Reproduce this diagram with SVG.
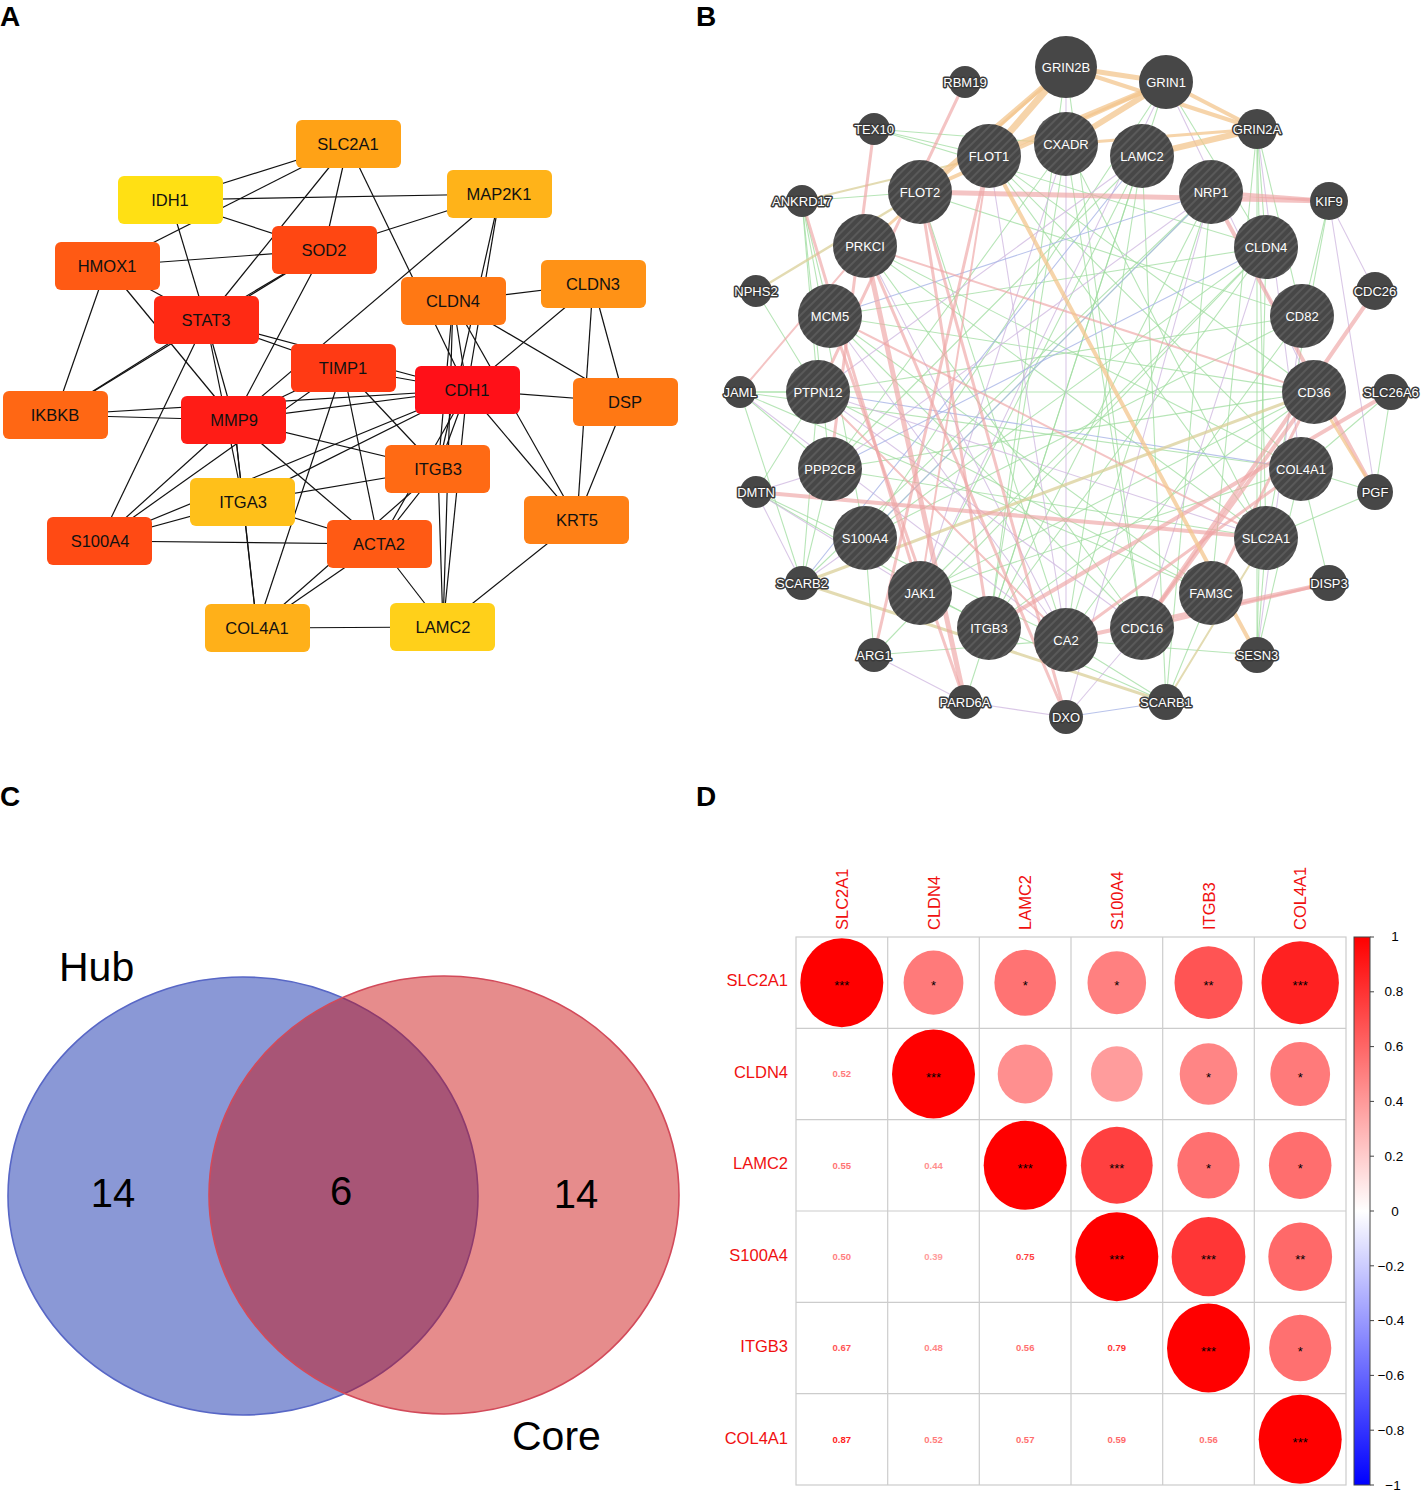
<svg xmlns="http://www.w3.org/2000/svg" width="1424" height="1493" viewBox="0 0 1424 1493">
<style>
text{font-family:"Liberation Sans",Arial,sans-serif}
.pl{font-size:28px;font-weight:bold;fill:#000}
.ae line{stroke:#111;stroke-width:1.2}
.an text{font-size:16.5px;text-anchor:middle;fill:#111}
.be line{fill:none;stroke-linecap:round}
.o{stroke:#f3c58e;stroke-opacity:.75}
.y{stroke:#d9cf98;stroke-opacity:.75}
.p{stroke:#eea4a4;stroke-opacity:.65}
.g{stroke:#9fdc9f;stroke-width:1.1;stroke-opacity:.75}
.v{stroke:#cdb5df;stroke-width:1.1;stroke-opacity:.75}
.b{stroke:#a8b4e6;stroke-width:1.1;stroke-opacity:.8}
.bn text{font-size:13px;text-anchor:middle;fill:#fff}
.bs text{font-size:13px;text-anchor:middle;fill:#fff;stroke:#3a3a3a;stroke-width:3;paint-order:stroke;stroke-linejoin:round}
.venn text{fill:#000}
.rl{font-size:16.5px;fill:#f01010;text-anchor:end}
.cl{font-size:16.5px;fill:#f01010}
.st{font-size:13px;text-anchor:middle;fill:#000}
.vl{font-size:9.5px;font-weight:bold;text-anchor:middle}
.cb{font-size:13.5px;text-anchor:middle;fill:#000}
</style>
<defs>
<pattern id="hatch" patternUnits="userSpaceOnUse" width="6" height="6" patternTransform="rotate(45)">
<rect width="6" height="6" fill="#474747"/>
<line x1="3" y1="0" x2="3" y2="6" stroke="#5e5e5e" stroke-width="1.6"/>
</pattern>
<linearGradient id="cbar" x1="0" y1="0" x2="0" y2="1">
<stop offset="0" stop-color="#ff0000"/>
<stop offset="0.5" stop-color="#ffffff"/>
<stop offset="1" stop-color="#0000ff"/>
</linearGradient>
</defs>
<rect width="1424" height="1493" fill="#fff"/>

<text class="pl" x="0" y="26">A</text>
<text class="pl" x="696" y="26">B</text>
<text class="pl" x="0" y="806">C</text>
<text class="pl" x="696" y="806">D</text>

<!-- Panel A connectors -->
<g id="a-edges" class="ae">
<line x1="170" y1="200" x2="348" y2="144"/>
<line x1="107" y1="266" x2="348" y2="144"/>
<line x1="170" y1="200" x2="500" y2="194"/>
<line x1="170" y1="200" x2="324" y2="250"/>
<line x1="170" y1="200" x2="206" y2="320"/>
<line x1="107" y1="266" x2="324" y2="250"/>
<line x1="107" y1="266" x2="55" y2="415"/>
<line x1="107" y1="266" x2="234" y2="420"/>
<line x1="107" y1="266" x2="206" y2="320"/>
<line x1="348" y1="144" x2="206" y2="320"/>
<line x1="348" y1="144" x2="324" y2="250"/>
<line x1="348" y1="144" x2="467" y2="390"/>
<line x1="500" y1="194" x2="324" y2="250"/>
<line x1="500" y1="194" x2="234" y2="420"/>
<line x1="500" y1="194" x2="467" y2="390"/>
<line x1="500" y1="194" x2="438" y2="469"/>
<line x1="453" y1="301" x2="593" y2="284"/>
<line x1="453" y1="301" x2="467" y2="390"/>
<line x1="453" y1="301" x2="625" y2="402"/>
<line x1="453" y1="301" x2="577" y2="520"/>
<line x1="453" y1="301" x2="438" y2="469"/>
<line x1="453" y1="301" x2="443" y2="627"/>
<line x1="593" y1="284" x2="467" y2="390"/>
<line x1="593" y1="284" x2="625" y2="402"/>
<line x1="593" y1="284" x2="577" y2="520"/>
<line x1="467" y1="390" x2="625" y2="402"/>
<line x1="467" y1="390" x2="577" y2="520"/>
<line x1="467" y1="390" x2="438" y2="469"/>
<line x1="467" y1="390" x2="443" y2="627"/>
<line x1="467" y1="390" x2="379" y2="544"/>
<line x1="625" y1="402" x2="577" y2="520"/>
<line x1="438" y1="469" x2="443" y2="627"/>
<line x1="577" y1="520" x2="443" y2="627"/>
<line x1="379" y1="544" x2="443" y2="627"/>
<line x1="257" y1="628" x2="443" y2="627"/>
<line x1="379" y1="544" x2="438" y2="469"/>
<line x1="100" y1="541" x2="379" y2="544"/>
<line x1="243" y1="502" x2="379" y2="544"/>
<line x1="243" y1="502" x2="438" y2="469"/>
<line x1="257" y1="628" x2="379" y2="544"/>
<line x1="257" y1="628" x2="243" y2="502"/>
<line x1="257" y1="628" x2="343" y2="368"/>
<line x1="257" y1="628" x2="438" y2="469"/>
<line x1="257" y1="628" x2="234" y2="420"/>
<line x1="100" y1="541" x2="243" y2="502"/>
<line x1="100" y1="541" x2="234" y2="420"/>
<line x1="100" y1="541" x2="343" y2="368"/>
<line x1="100" y1="541" x2="206" y2="320"/>
<line x1="100" y1="541" x2="467" y2="390"/>
<line x1="55" y1="415" x2="234" y2="420"/>
<line x1="55" y1="415" x2="467" y2="390"/>
<line x1="55" y1="415" x2="206" y2="320"/>
<line x1="55" y1="415" x2="324" y2="250"/>
<line x1="206" y1="320" x2="324" y2="250"/>
<line x1="206" y1="320" x2="343" y2="368"/>
<line x1="206" y1="320" x2="234" y2="420"/>
<line x1="206" y1="320" x2="243" y2="502"/>
<line x1="206" y1="320" x2="467" y2="390"/>
<line x1="324" y1="250" x2="234" y2="420"/>
<line x1="343" y1="368" x2="467" y2="390"/>
<line x1="343" y1="368" x2="438" y2="469"/>
<line x1="343" y1="368" x2="379" y2="544"/>
<line x1="343" y1="368" x2="234" y2="420"/>
<line x1="234" y1="420" x2="467" y2="390"/>
<line x1="234" y1="420" x2="438" y2="469"/>
<line x1="234" y1="420" x2="379" y2="544"/>
<line x1="234" y1="420" x2="243" y2="502"/>
<line x1="243" y1="502" x2="467" y2="390"/>
</g>

<!-- Panel A nodes -->
<g class="an">
<g id="a-SLC2A1"><rect x="296" y="120" width="105" height="48" rx="6" fill="#ffa216"/><text x="348" y="150">SLC2A1</text></g>
<g id="a-IDH1"><rect x="118" y="176" width="105" height="48" rx="6" fill="#ffe014"/><text x="170" y="206">IDH1</text></g>
<g id="a-MAP2K1"><rect x="447" y="170" width="105" height="48" rx="6" fill="#ffb319"/><text x="499" y="200">MAP2K1</text></g>
<g id="a-HMOX1"><rect x="55" y="242" width="105" height="48" rx="6" fill="#ff5a14"/><text x="107" y="272">HMOX1</text></g>
<g id="a-SOD2"><rect x="272" y="226" width="105" height="48" rx="6" fill="#ff4712"/><text x="324" y="256">SOD2</text></g>
<g id="a-STAT3"><rect x="154" y="296" width="105" height="48" rx="6" fill="#ff2a14"/><text x="206" y="326">STAT3</text></g>
<g id="a-CLDN4"><rect x="401" y="277" width="105" height="48" rx="6" fill="#ff7814"/><text x="453" y="307">CLDN4</text></g>
<g id="a-CLDN3"><rect x="541" y="260" width="105" height="48" rx="6" fill="#ff9216"/><text x="593" y="290">CLDN3</text></g>
<g id="a-TIMP1"><rect x="291" y="344" width="105" height="48" rx="6" fill="#ff3a14"/><text x="343" y="374">TIMP1</text></g>
<g id="a-CDH1"><rect x="415" y="366" width="105" height="48" rx="6" fill="#ff1018"/><text x="467" y="396">CDH1</text></g>
<g id="a-DSP"><rect x="573" y="378" width="105" height="48" rx="6" fill="#ff7814"/><text x="625" y="408">DSP</text></g>
<g id="a-IKBKB"><rect x="3" y="391" width="105" height="48" rx="6" fill="#ff6714"/><text x="55" y="421">IKBKB</text></g>
<g id="a-MMP9"><rect x="181" y="396" width="105" height="48" rx="6" fill="#ff1c16"/><text x="234" y="426">MMP9</text></g>
<g id="a-ITGB3"><rect x="385" y="445" width="105" height="48" rx="6" fill="#ff6a14"/><text x="438" y="475">ITGB3</text></g>
<g id="a-ITGA3"><rect x="190" y="478" width="105" height="48" rx="6" fill="#ffc01a"/><text x="243" y="508">ITGA3</text></g>
<g id="a-KRT5"><rect x="524" y="496" width="105" height="48" rx="6" fill="#ff8016"/><text x="577" y="526">KRT5</text></g>
<g id="a-S100A4"><rect x="47" y="517" width="105" height="48" rx="6" fill="#ff4a14"/><text x="100" y="547">S100A4</text></g>
<g id="a-ACTA2"><rect x="327" y="520" width="105" height="48" rx="6" fill="#ff5a14"/><text x="379" y="550">ACTA2</text></g>
<g id="a-COL4A1"><rect x="205" y="604" width="105" height="48" rx="6" fill="#ffb019"/><text x="257" y="634">COL4A1</text></g>
<g id="a-LAMC2"><rect x="390" y="603" width="105" height="48" rx="6" fill="#ffd01a"/><text x="443" y="633">LAMC2</text></g>
</g>

<!-- Panel B connectors -->
<g id="b-edges" class="be">
<line class="g" x1="874" y1="129" x2="989" y2="156"/>
<line class="g" x1="874" y1="129" x2="1066" y2="144"/>
<line class="g" x1="874" y1="129" x2="1266" y2="247"/>
<line class="g" x1="802" y1="201" x2="920" y2="192"/>
<line class="g" x1="802" y1="201" x2="830" y2="316"/>
<line class="g" x1="802" y1="201" x2="818" y2="392"/>
<line class="g" x1="802" y1="201" x2="830" y2="469"/>
<line class="g" x1="802" y1="201" x2="865" y2="538"/>
<line class="g" x1="756" y1="291" x2="818" y2="392"/>
<line class="g" x1="740" y1="392" x2="818" y2="392"/>
<line class="g" x1="740" y1="392" x2="1314" y2="392"/>
<line class="g" x1="740" y1="392" x2="1301" y2="469"/>
<line class="g" x1="740" y1="392" x2="802" y2="583"/>
<line class="g" x1="740" y1="392" x2="830" y2="469"/>
<line class="g" x1="740" y1="392" x2="1211" y2="593"/>
<line class="g" x1="756" y1="492" x2="818" y2="392"/>
<line class="g" x1="756" y1="492" x2="1066" y2="640"/>
<line class="g" x1="756" y1="492" x2="989" y2="628"/>
<line class="g" x1="802" y1="583" x2="818" y2="392"/>
<line class="g" x1="802" y1="583" x2="830" y2="469"/>
<line class="g" x1="802" y1="583" x2="1211" y2="192"/>
<line class="g" x1="874" y1="655" x2="865" y2="538"/>
<line class="g" x1="874" y1="655" x2="1066" y2="640"/>
<line class="g" x1="874" y1="655" x2="1266" y2="247"/>
<line class="g" x1="965" y1="702" x2="989" y2="628"/>
<line class="g" x1="1257" y1="129" x2="1266" y2="247"/>
<line class="g" x1="1257" y1="129" x2="1302" y2="316"/>
<line class="g" x1="1257" y1="129" x2="1266" y2="538"/>
<line class="g" x1="1257" y1="129" x2="1257" y2="655"/>
<line class="g" x1="1257" y1="129" x2="1211" y2="593"/>
<line class="g" x1="1329" y1="201" x2="1302" y2="316"/>
<line class="g" x1="1329" y1="201" x2="1266" y2="538"/>
<line class="g" x1="1391" y1="392" x2="1375" y2="492"/>
<line class="g" x1="1391" y1="392" x2="1301" y2="469"/>
<line class="g" x1="1375" y1="492" x2="1301" y2="469"/>
<line class="g" x1="1375" y1="492" x2="1266" y2="538"/>
<line class="g" x1="1257" y1="655" x2="1266" y2="538"/>
<line class="g" x1="1257" y1="655" x2="1266" y2="247"/>
<line class="g" x1="1257" y1="655" x2="1066" y2="640"/>
<line class="g" x1="1257" y1="655" x2="1301" y2="469"/>
<line class="g" x1="1166" y1="702" x2="1066" y2="640"/>
<line class="g" x1="1166" y1="702" x2="1211" y2="593"/>
<line class="g" x1="1166" y1="702" x2="920" y2="593"/>
<line class="g" x1="1166" y1="702" x2="1211" y2="192"/>
<line class="g" x1="1166" y1="702" x2="1142" y2="156"/>
<line class="g" x1="1066" y1="144" x2="989" y2="628"/>
<line class="g" x1="1066" y1="144" x2="1142" y2="628"/>
<line class="g" x1="1066" y1="144" x2="830" y2="469"/>
<line class="g" x1="1066" y1="144" x2="1266" y2="538"/>
<line class="g" x1="1142" y1="156" x2="989" y2="628"/>
<line class="g" x1="1142" y1="156" x2="1066" y2="640"/>
<line class="g" x1="1142" y1="156" x2="920" y2="593"/>
<line class="g" x1="1142" y1="156" x2="830" y2="469"/>
<line class="g" x1="1211" y1="192" x2="989" y2="628"/>
<line class="g" x1="1211" y1="192" x2="865" y2="538"/>
<line class="g" x1="1211" y1="192" x2="1066" y2="640"/>
<line class="g" x1="989" y1="156" x2="1314" y2="392"/>
<line class="g" x1="989" y1="156" x2="1266" y2="538"/>
<line class="g" x1="989" y1="156" x2="1301" y2="469"/>
<line class="g" x1="920" y1="192" x2="1302" y2="316"/>
<line class="g" x1="920" y1="192" x2="1066" y2="640"/>
<line class="g" x1="865" y1="246" x2="1301" y2="469"/>
<line class="g" x1="865" y1="246" x2="1266" y2="538"/>
<line class="g" x1="865" y1="246" x2="1142" y2="628"/>
<line class="g" x1="830" y1="316" x2="1266" y2="247"/>
<line class="g" x1="830" y1="316" x2="1211" y2="593"/>
<line class="g" x1="830" y1="316" x2="1314" y2="392"/>
<line class="g" x1="818" y1="392" x2="1302" y2="316"/>
<line class="g" x1="818" y1="392" x2="1211" y2="593"/>
<line class="g" x1="830" y1="469" x2="1266" y2="538"/>
<line class="g" x1="830" y1="469" x2="1314" y2="392"/>
<line class="g" x1="865" y1="538" x2="1302" y2="316"/>
<line class="g" x1="865" y1="538" x2="1266" y2="247"/>
<line class="g" x1="920" y1="593" x2="1266" y2="247"/>
<line class="g" x1="920" y1="593" x2="1314" y2="392"/>
<line class="g" x1="920" y1="593" x2="1301" y2="469"/>
<line class="g" x1="989" y1="628" x2="1314" y2="392"/>
<line class="g" x1="989" y1="628" x2="1266" y2="247"/>
<line class="g" x1="1066" y1="640" x2="1302" y2="316"/>
<line class="g" x1="1142" y1="628" x2="830" y2="316"/>
<line class="g" x1="1166" y1="82" x2="1266" y2="247"/>
<line class="g" x1="1166" y1="82" x2="989" y2="628"/>
<line class="g" x1="1166" y1="82" x2="865" y2="538"/>
<line class="g" x1="1066" y1="67" x2="989" y2="628"/>
<line class="g" x1="1066" y1="67" x2="1142" y2="628"/>
<line class="g" x1="1329" y1="583" x2="1301" y2="469"/>
<line class="v" x1="740" y1="392" x2="1066" y2="640"/>
<line class="v" x1="756" y1="492" x2="802" y2="583"/>
<line class="v" x1="756" y1="492" x2="920" y2="593"/>
<line class="v" x1="818" y1="392" x2="1266" y2="538"/>
<line class="v" x1="818" y1="392" x2="1142" y2="628"/>
<line class="v" x1="830" y1="316" x2="1066" y2="640"/>
<line class="v" x1="830" y1="469" x2="756" y2="492"/>
<line class="v" x1="865" y1="538" x2="802" y2="583"/>
<line class="v" x1="1329" y1="201" x2="1375" y2="291"/>
<line class="v" x1="1329" y1="201" x2="1375" y2="492"/>
<line class="v" x1="1257" y1="129" x2="1301" y2="469"/>
<line class="v" x1="1066" y1="144" x2="920" y2="593"/>
<line class="v" x1="989" y1="156" x2="1066" y2="640"/>
<line class="v" x1="1142" y1="156" x2="818" y2="392"/>
<line class="v" x1="1166" y1="82" x2="920" y2="593"/>
<line class="v" x1="1142" y1="628" x2="1066" y2="717"/>
<line class="v" x1="965" y1="702" x2="1066" y2="717"/>
<line class="v" x1="874" y1="655" x2="965" y2="702"/>
<line class="v" x1="865" y1="246" x2="1066" y2="640"/>
<line class="v" x1="1211" y1="192" x2="830" y2="469"/>
<line class="v" x1="1166" y1="82" x2="1314" y2="392"/>
<line class="v" x1="1066" y1="67" x2="1066" y2="640"/>
<line class="v" x1="1266" y1="247" x2="1142" y2="628"/>
<line class="v" x1="1302" y1="316" x2="1257" y2="655"/>
<line class="v" x1="1211" y1="192" x2="1066" y2="717"/>
<line class="b" x1="830" y1="316" x2="1211" y2="192"/>
<line class="b" x1="830" y1="469" x2="1266" y2="247"/>
<line class="b" x1="1066" y1="717" x2="1166" y2="702"/>
<line class="b" x1="802" y1="583" x2="1142" y2="156"/>
<line class="b" x1="818" y1="392" x2="1301" y2="469"/>
<line class="b" x1="865" y1="538" x2="1211" y2="192"/>
<line class="y" stroke-width="2.5" x1="756" y1="291" x2="920" y2="192"/>
<line class="y" stroke-width="3" x1="802" y1="583" x2="1314" y2="392"/>
<line class="y" stroke-width="3" x1="802" y1="583" x2="1166" y2="702"/>
<line class="y" stroke-width="2" x1="1166" y1="702" x2="1266" y2="538"/>
<line class="y" stroke-width="2" x1="802" y1="201" x2="989" y2="156"/>
<line class="p" stroke-width="5" x1="920" y1="192" x2="1329" y2="201"/>
<line class="p" stroke-width="4" x1="1211" y1="192" x2="1329" y2="201"/>
<line class="p" stroke-width="4" x1="1211" y1="192" x2="1375" y2="492"/>
<line class="p" stroke-width="4" x1="1375" y1="291" x2="1142" y2="628"/>
<line class="p" stroke-width="4" x1="1391" y1="392" x2="989" y2="628"/>
<line class="p" stroke-width="4" x1="1329" y1="583" x2="1066" y2="640"/>
<line class="p" stroke-width="3" x1="1329" y1="583" x2="1142" y2="628"/>
<line class="p" stroke-width="4" x1="756" y1="492" x2="1266" y2="538"/>
<line class="p" stroke-width="3" x1="874" y1="129" x2="830" y2="469"/>
<line class="p" stroke-width="3" x1="965" y1="82" x2="818" y2="392"/>
<line class="p" stroke-width="3" x1="802" y1="201" x2="920" y2="593"/>
<line class="p" stroke-width="5" x1="965" y1="702" x2="865" y2="246"/>
<line class="p" stroke-width="3" x1="965" y1="702" x2="830" y2="316"/>
<line class="p" stroke-width="3" x1="874" y1="655" x2="989" y2="156"/>
<line class="p" stroke-width="3" x1="1066" y1="717" x2="920" y2="192"/>
<line class="p" stroke-width="3" x1="1066" y1="717" x2="865" y2="246"/>
<line class="p" stroke-width="4" x1="1314" y1="392" x2="1142" y2="628"/>
<line class="p" stroke-width="3" x1="1314" y1="392" x2="1211" y2="593"/>
<line class="p" stroke-width="3" x1="1301" y1="469" x2="1066" y2="640"/>
<line class="p" stroke-width="2" x1="865" y1="246" x2="1314" y2="392"/>
<line class="p" stroke-width="3" x1="920" y1="192" x2="989" y2="628"/>
<line class="p" stroke-width="2" x1="989" y1="156" x2="920" y2="593"/>
<line class="p" stroke-width="2" x1="818" y1="392" x2="1066" y2="640"/>
<line class="p" stroke-width="2" x1="830" y1="316" x2="1266" y2="538"/>
<line class="p" stroke-width="2" x1="740" y1="392" x2="865" y2="246"/>
<line class="o" stroke-width="5" x1="1066" y1="67" x2="1166" y2="82"/>
<line class="o" stroke-width="4" x1="1066" y1="67" x2="1257" y2="129"/>
<line class="o" stroke-width="4" x1="1166" y1="82" x2="1257" y2="129"/>
<line class="o" stroke-width="7" x1="1066" y1="67" x2="989" y2="156"/>
<line class="o" stroke-width="5" x1="1066" y1="67" x2="920" y2="192"/>
<line class="o" stroke-width="5" x1="1166" y1="82" x2="989" y2="156"/>
<line class="o" stroke-width="6" x1="1166" y1="82" x2="1066" y2="144"/>
<line class="o" stroke-width="6" x1="1257" y1="129" x2="1142" y2="156"/>
<line class="o" stroke-width="3" x1="1257" y1="129" x2="1066" y2="144"/>
<line class="o" stroke-width="4" x1="1166" y1="82" x2="920" y2="192"/>
<line class="o" stroke-width="4" x1="989" y1="156" x2="1257" y2="655"/>
<line class="o" stroke-width="3" x1="1314" y1="392" x2="1375" y2="492"/>
<line class="o" stroke-width="3" x1="1066" y1="67" x2="865" y2="246"/>
</g>

<!-- Panel B nodes: small -->
<g class="bs">
<g id="b-RBM19"><circle cx="965" cy="82" r="16" fill="#474747"/><text x="965" y="87">RBM19</text></g>
<g id="b-TEX10"><circle cx="874" cy="129" r="16" fill="#474747"/><text x="874" y="134">TEX10</text></g>
<g id="b-ANKRD17"><circle cx="802" cy="201" r="16" fill="#474747"/><text x="802" y="206">ANKRD17</text></g>
<g id="b-NPHS2"><circle cx="756" cy="291" r="16" fill="#474747"/><text x="756" y="296">NPHS2</text></g>
<g id="b-JAML"><circle cx="740" cy="392" r="16" fill="#474747"/><text x="740" y="397">JAML</text></g>
<g id="b-DMTN"><circle cx="756" cy="492" r="16" fill="#474747"/><text x="756" y="497">DMTN</text></g>
<g id="b-SCARB2"><circle cx="802" cy="583" r="17" fill="#474747"/><text x="802" y="588">SCARB2</text></g>
<g id="b-ARG1"><circle cx="874" cy="655" r="17" fill="#474747"/><text x="874" y="660">ARG1</text></g>
<g id="b-PARD6A"><circle cx="965" cy="702" r="17" fill="#474747"/><text x="965" y="707">PARD6A</text></g>
<g id="b-DXO"><circle cx="1066" cy="717" r="17" fill="#474747"/><text x="1066" y="722">DXO</text></g>
<g id="b-SCARB1"><circle cx="1166" cy="702" r="18" fill="#474747"/><text x="1166" y="707">SCARB1</text></g>
<g id="b-SESN3"><circle cx="1257" cy="655" r="18" fill="#474747"/><text x="1257" y="660">SESN3</text></g>
<g id="b-DISP3"><circle cx="1329" cy="583" r="18" fill="#474747"/><text x="1329" y="588">DISP3</text></g>
<g id="b-PGF"><circle cx="1375" cy="492" r="18" fill="#474747"/><text x="1375" y="497">PGF</text></g>
<g id="b-SLC26A6"><circle cx="1391" cy="392" r="18" fill="#474747"/><text x="1391" y="397">SLC26A6</text></g>
<g id="b-CDC26"><circle cx="1375" cy="291" r="19" fill="#474747"/><text x="1375" y="296">CDC26</text></g>
<g id="b-KIF9"><circle cx="1329" cy="201" r="19" fill="#474747"/><text x="1329" y="206">KIF9</text></g>
<g id="b-GRIN2A"><circle cx="1257" cy="129" r="20" fill="#474747"/><text x="1257" y="134">GRIN2A</text></g>
</g>
<!-- Panel B nodes: large -->
<g class="bn">
<g id="b-GRIN2B"><circle cx="1066" cy="67" r="31" fill="#474747"/><text x="1066" y="72">GRIN2B</text></g>
<g id="b-GRIN1"><circle cx="1166" cy="82" r="27" fill="#474747"/><text x="1166" y="87">GRIN1</text></g>
<g id="b-FLOT1"><circle cx="989" cy="156" r="32" fill="url(#hatch)"/><text x="989" y="161">FLOT1</text></g>
<g id="b-CXADR"><circle cx="1066" cy="144" r="32" fill="url(#hatch)"/><text x="1066" y="149">CXADR</text></g>
<g id="b-LAMC2"><circle cx="1142" cy="156" r="32" fill="url(#hatch)"/><text x="1142" y="161">LAMC2</text></g>
<g id="b-NRP1"><circle cx="1211" cy="192" r="32" fill="url(#hatch)"/><text x="1211" y="197">NRP1</text></g>
<g id="b-FLOT2"><circle cx="920" cy="192" r="32" fill="url(#hatch)"/><text x="920" y="197">FLOT2</text></g>
<g id="b-PRKCI"><circle cx="865" cy="246" r="32" fill="url(#hatch)"/><text x="865" y="251">PRKCI</text></g>
<g id="b-CLDN4"><circle cx="1266" cy="247" r="32" fill="url(#hatch)"/><text x="1266" y="252">CLDN4</text></g>
<g id="b-MCM5"><circle cx="830" cy="316" r="32" fill="url(#hatch)"/><text x="830" y="321">MCM5</text></g>
<g id="b-CD82"><circle cx="1302" cy="316" r="32" fill="url(#hatch)"/><text x="1302" y="321">CD82</text></g>
<g id="b-PTPN12"><circle cx="818" cy="392" r="32" fill="url(#hatch)"/><text x="818" y="397">PTPN12</text></g>
<g id="b-CD36"><circle cx="1314" cy="392" r="32" fill="url(#hatch)"/><text x="1314" y="397">CD36</text></g>
<g id="b-PPP2CB"><circle cx="830" cy="469" r="32" fill="url(#hatch)"/><text x="830" y="474">PPP2CB</text></g>
<g id="b-COL4A1"><circle cx="1301" cy="469" r="32" fill="url(#hatch)"/><text x="1301" y="474">COL4A1</text></g>
<g id="b-S100A4"><circle cx="865" cy="538" r="32" fill="url(#hatch)"/><text x="865" y="543">S100A4</text></g>
<g id="b-SLC2A1"><circle cx="1266" cy="538" r="32" fill="url(#hatch)"/><text x="1266" y="543">SLC2A1</text></g>
<g id="b-JAK1"><circle cx="920" cy="593" r="32" fill="url(#hatch)"/><text x="920" y="598">JAK1</text></g>
<g id="b-FAM3C"><circle cx="1211" cy="593" r="32" fill="url(#hatch)"/><text x="1211" y="598">FAM3C</text></g>
<g id="b-ITGB3"><circle cx="989" cy="628" r="32" fill="url(#hatch)"/><text x="989" y="633">ITGB3</text></g>
<g id="b-CDC16"><circle cx="1142" cy="628" r="32" fill="url(#hatch)"/><text x="1142" y="633">CDC16</text></g>
<g id="b-CA2"><circle cx="1066" cy="640" r="32" fill="url(#hatch)"/><text x="1066" y="645">CA2</text></g>
</g>

<!-- Panel C Venn -->
<g id="venn" class="venn">
<ellipse id="hub" cx="243" cy="1196" rx="235" ry="219" fill="#8a98d6" stroke="#5867c6" stroke-width="1.6"/>
<ellipse id="core" cx="444" cy="1195" rx="235" ry="219" fill="#ca0b0b" fill-opacity="0.47" stroke="#d24a5a" stroke-width="1.6"/>
<text x="59" y="981" font-size="41">Hub</text>
<text x="113" y="1207" font-size="40" text-anchor="middle">14</text>
<text x="341" y="1205" font-size="40" text-anchor="middle">6</text>
<text x="576" y="1208" font-size="40" text-anchor="middle">14</text>
<text x="512" y="1450" font-size="41">Core</text>
</g>

<!-- Panel D correlation -->
<g id="corr">
<rect x="796" y="937" width="550" height="548" fill="#fff" stroke="#cccccc" stroke-width="1.2"/>
<g stroke="#cccccc" stroke-width="1.2">
<line x1="887.7" y1="937" x2="887.7" y2="1485"/>
<line x1="979.3" y1="937" x2="979.3" y2="1485"/>
<line x1="1071" y1="937" x2="1071" y2="1485"/>
<line x1="1162.7" y1="937" x2="1162.7" y2="1485"/>
<line x1="1254.3" y1="937" x2="1254.3" y2="1485"/>
<line x1="796" y1="1028.3" x2="1346" y2="1028.3"/>
<line x1="796" y1="1119.7" x2="1346" y2="1119.7"/>
<line x1="796" y1="1211" x2="1346" y2="1211"/>
<line x1="796" y1="1302.3" x2="1346" y2="1302.3"/>
<line x1="796" y1="1393.7" x2="1346" y2="1393.7"/>
</g>
<text class="rl" x="788" y="986">SLC2A1</text>
<text class="rl" x="788" y="1077.5">CLDN4</text>
<text class="rl" x="788" y="1169">LAMC2</text>
<text class="rl" x="788" y="1260.5">S100A4</text>
<text class="rl" x="788" y="1352">ITGB3</text>
<text class="rl" x="788" y="1443.5">COL4A1</text>
<text class="cl" transform="translate(848,930) rotate(-90)">SLC2A1</text>
<text class="cl" transform="translate(939.5,930) rotate(-90)">CLDN4</text>
<text class="cl" transform="translate(1031,930) rotate(-90)">LAMC2</text>
<text class="cl" transform="translate(1123,930) rotate(-90)">S100A4</text>
<text class="cl" transform="translate(1214.5,930) rotate(-90)">ITGB3</text>
<text class="cl" transform="translate(1306,930) rotate(-90)">COL4A1</text>
<!-- row 1 -->
<ellipse cx="841.8" cy="982.7" rx="41.5" ry="44.5" fill="#ff0000"/>
<ellipse cx="933.5" cy="982.7" rx="29.9" ry="32.1" fill="#ff7a7a"/>
<ellipse cx="1025.2" cy="982.7" rx="30.8" ry="33" fill="#ff7373"/>
<ellipse cx="1116.8" cy="982.7" rx="29.3" ry="31.5" fill="#ff8080"/>
<ellipse cx="1208.5" cy="982.7" rx="34" ry="36.4" fill="#ff5454"/>
<ellipse cx="1300.2" cy="982.7" rx="38.7" ry="41.5" fill="#ff2121"/>
<!-- row 2 -->
<ellipse cx="933.5" cy="1074" rx="41.5" ry="44.5" fill="#ff0000"/>
<ellipse cx="1025.2" cy="1074" rx="27.5" ry="29.5" fill="#ff8f8f"/>
<ellipse cx="1116.8" cy="1074" rx="25.9" ry="27.8" fill="#ff9c9c"/>
<ellipse cx="1208.5" cy="1074" rx="28.8" ry="30.8" fill="#ff8585"/>
<ellipse cx="1300.2" cy="1074" rx="29.9" ry="32.1" fill="#ff7a7a"/>
<!-- row 3 -->
<ellipse cx="1025.2" cy="1165.3" rx="41.5" ry="44.5" fill="#ff0000"/>
<ellipse cx="1116.8" cy="1165.3" rx="35.9" ry="38.5" fill="#ff4040"/>
<ellipse cx="1208.5" cy="1165.3" rx="31.1" ry="33.3" fill="#ff7070"/>
<ellipse cx="1300.2" cy="1165.3" rx="31.3" ry="33.6" fill="#ff6e6e"/>
<!-- row 4 -->
<ellipse cx="1116.8" cy="1256.7" rx="41.5" ry="44.5" fill="#ff0000"/>
<ellipse cx="1208.5" cy="1256.7" rx="36.9" ry="39.6" fill="#ff3636"/>
<ellipse cx="1300.2" cy="1256.7" rx="31.9" ry="34.2" fill="#ff6969"/>
<!-- row 5 -->
<ellipse cx="1208.5" cy="1348" rx="41.5" ry="44.5" fill="#ff0000"/>
<ellipse cx="1300.2" cy="1348" rx="31.1" ry="33.3" fill="#ff7070"/>
<!-- row 6 -->
<ellipse cx="1300.2" cy="1439.3" rx="41.5" ry="44.5" fill="#ff0000"/>
<!-- stars -->
<text class="st" x="841.8" y="990">***</text>
<text class="st" x="933.5" y="990">*</text>
<text class="st" x="1025.2" y="990">*</text>
<text class="st" x="1116.8" y="990">*</text>
<text class="st" x="1208.5" y="990">**</text>
<text class="st" x="1300.2" y="990">***</text>
<text class="st" x="933.5" y="1081.5">***</text>
<text class="st" x="1208.5" y="1081.5">*</text>
<text class="st" x="1300.2" y="1081.5">*</text>
<text class="st" x="1025.2" y="1172.8">***</text>
<text class="st" x="1116.8" y="1172.8">***</text>
<text class="st" x="1208.5" y="1172.8">*</text>
<text class="st" x="1300.2" y="1172.8">*</text>
<text class="st" x="1116.8" y="1264.2">***</text>
<text class="st" x="1208.5" y="1264.2">***</text>
<text class="st" x="1300.2" y="1264.2">**</text>
<text class="st" x="1208.5" y="1355.5">***</text>
<text class="st" x="1300.2" y="1355.5">*</text>
<text class="st" x="1300.2" y="1446.8">***</text>
<!-- values -->
<text class="vl" x="841.8" y="1077.4" fill="#ff7a7a">0.52</text>
<text class="vl" x="841.8" y="1168.7" fill="#ff7373">0.55</text>
<text class="vl" x="933.5" y="1168.7" fill="#ff8f8f">0.44</text>
<text class="vl" x="841.8" y="1260.1" fill="#ff8080">0.50</text>
<text class="vl" x="933.5" y="1260.1" fill="#ff9c9c">0.39</text>
<text class="vl" x="1025.2" y="1260.1" fill="#ff4040">0.75</text>
<text class="vl" x="841.8" y="1351.4" fill="#ff5454">0.67</text>
<text class="vl" x="933.5" y="1351.4" fill="#ff8585">0.48</text>
<text class="vl" x="1025.2" y="1351.4" fill="#ff7070">0.56</text>
<text class="vl" x="1116.8" y="1351.4" fill="#ff3636">0.79</text>
<text class="vl" x="841.8" y="1442.7" fill="#ff2121">0.87</text>
<text class="vl" x="933.5" y="1442.7" fill="#ff7a7a">0.52</text>
<text class="vl" x="1025.2" y="1442.7" fill="#ff6e6e">0.57</text>
<text class="vl" x="1116.8" y="1442.7" fill="#ff6969">0.59</text>
<text class="vl" x="1208.5" y="1442.7" fill="#ff7070">0.56</text>
</g>

<!-- Colorbar -->
<g id="colorbar">
<rect x="1354" y="937" width="16" height="548" fill="url(#cbar)" stroke="#444" stroke-width="1"/>
<g stroke="#444" stroke-width="1">
<line x1="1370" y1="937" x2="1374" y2="937"/>
<line x1="1370" y1="991.8" x2="1374" y2="991.8"/>
<line x1="1370" y1="1046.6" x2="1374" y2="1046.6"/>
<line x1="1370" y1="1101.4" x2="1374" y2="1101.4"/>
<line x1="1370" y1="1156.2" x2="1374" y2="1156.2"/>
<line x1="1370" y1="1211" x2="1374" y2="1211"/>
<line x1="1370" y1="1265.8" x2="1374" y2="1265.8"/>
<line x1="1370" y1="1320.6" x2="1374" y2="1320.6"/>
<line x1="1370" y1="1375.4" x2="1374" y2="1375.4"/>
<line x1="1370" y1="1430.2" x2="1374" y2="1430.2"/>
<line x1="1370" y1="1485" x2="1374" y2="1485"/>
</g>
<text class="cb" x="1395" y="941">1</text>
<text class="cb" x="1394" y="996">0.8</text>
<text class="cb" x="1394" y="1051">0.6</text>
<text class="cb" x="1394" y="1106">0.4</text>
<text class="cb" x="1394" y="1161">0.2</text>
<text class="cb" x="1395" y="1215.5">0</text>
<text class="cb" x="1391" y="1270.5">−0.2</text>
<text class="cb" x="1391" y="1325">−0.4</text>
<text class="cb" x="1391" y="1380">−0.6</text>
<text class="cb" x="1391" y="1435">−0.8</text>
<text class="cb" x="1393" y="1490">−1</text>
</g>
</svg>
